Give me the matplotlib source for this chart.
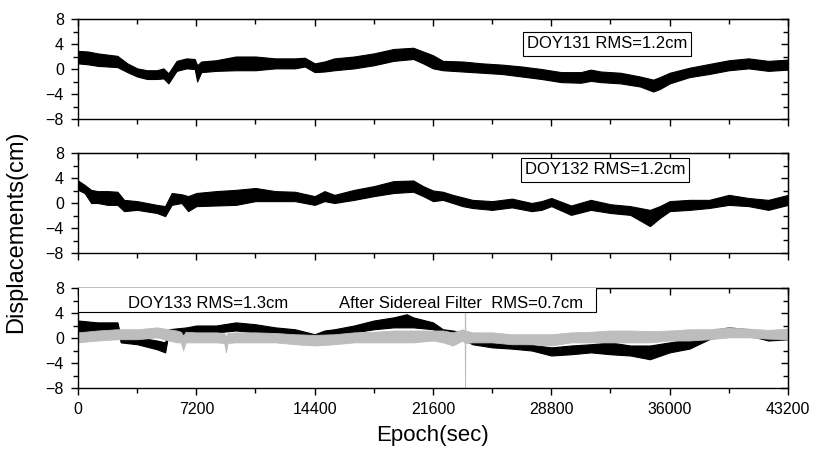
import matplotlib
matplotlib.use('Agg')
import matplotlib.pyplot as plt
from matplotlib.ticker import MultipleLocator
from matplotlib.patches import Rectangle

plt.rcParams['font.family'] = ['Liberation Sans', 'DejaVu Sans']

# DOY131 band (upper / lower envelope, cm)
t1 = [0, 600, 1200, 1800, 2400, 3000, 3600, 4200, 4800, 5200, 5500, 6000, 6600, 7100, 7250, 7500,
      8400, 9600, 10800, 12000, 13200, 13800, 14400, 15000, 15600, 16800, 18000, 19200, 20400, 21000,
      21600, 22200, 23400, 24600, 25800, 27000, 28200, 29400, 30600, 31200, 31800, 33000, 34200,
      35000, 35400, 36000, 37200, 38400, 39600, 40800, 42000, 43200]
hi1 = [2.9, 2.8, 2.5, 2.3, 2.1, 0.9, 0.1, -0.2, -0.2, 0.1, -0.7, 1.3, 1.7, 1.6, 0.6, 1.2,
       1.4, 2.0, 2.0, 1.7, 1.7, 1.8, 0.9, 1.2, 1.7, 2.0, 2.5, 3.2, 3.4, 2.8,
       2.2, 1.3, 1.2, 0.9, 0.7, 0.4, 0.0, -0.5, -0.5, -0.1, -0.4, -0.6, -1.2,
       -1.7, -1.3, -0.6, 0.2, 0.8, 1.4, 1.7, 1.3, 1.5]
lo1 = [0.9, 0.75, 0.5, 0.4, 0.3, -0.5, -1.2, -1.6, -1.6, -1.5, -2.3, -0.3, 0.1, 0.0, -2.0, -0.5,
       -0.3, -0.2, -0.2, 0.1, 0.1, 0.4, -0.5, -0.4, -0.2, 0.1, 0.6, 1.3, 1.6, 0.9,
       0.1, -0.2, -0.4, -0.6, -0.8, -1.2, -1.6, -2.1, -2.2, -1.9, -2.1, -2.3, -2.8,
       -3.6, -3.2, -2.3, -1.3, -0.8, -0.2, 0.1, -0.3, -0.1]

# DOY132
t2 = [0, 400, 800, 1200, 1800, 2400, 2800, 3600, 4800, 5300, 5700, 6300, 6700, 7200, 8400,
      9600, 10800, 12000, 13200, 14400, 15000, 15600, 16800, 18000, 19200, 20400, 21000, 21600,
      22200, 22800, 23400, 24000, 25200, 26400, 27600, 28200, 28800, 30000, 31200, 32400, 33600,
      34800, 35400, 36000, 37200, 38400, 39600, 40800, 42000, 43200]
hi2 = [3.6, 2.9, 2.1, 1.9, 1.9, 1.8, 0.5, 0.3, -0.3, -0.5, 1.6, 1.4, 1.1, 1.6, 1.9,
       2.1, 2.4, 1.9, 1.8, 1.1, 1.9, 1.3, 2.1, 2.7, 3.5, 3.6, 2.7, 2.0,
       1.8, 1.3, 0.9, 0.5, 0.3, 0.7, 0.0, 0.3, 0.8, -0.4, 0.5, -0.2, -0.5,
       -1.1, -0.5, 0.3, 0.5, 0.5, 1.3, 0.8, 0.5, 1.3]
lo2 = [2.1, 1.6, 0.0, 0.0, -0.3, -0.3, -1.3, -1.1, -1.6, -2.1, -0.3, 0.0, -1.3, -0.5, -0.4,
       -0.3, 0.3, 0.3, 0.3, -0.3, 0.3, 0.0, 0.5, 1.1, 1.6, 1.8, 1.1, 0.3,
       0.5, 0.0, -0.5, -0.8, -1.1, -0.7, -1.3, -1.1, -0.5, -1.9, -1.1, -1.6, -1.9,
       -3.7, -2.4, -1.3, -1.1, -0.8, -0.3, -0.5, -1.1, -0.3]

# DOY133 raw
t3 = [0, 1200, 2400, 2600, 3600, 4800, 5300, 5500, 6600, 7200, 8400, 9600, 10800, 12000, 13200,
      14400, 15000, 15600, 16800, 18000, 19200, 20000, 20400, 21600, 22200, 22800, 23400, 24000,
      25200, 26400, 27600, 28800, 30000, 31200, 32400, 33600, 34800, 36000, 37200, 38400, 39600,
      40800, 42000, 43200]
hi3 = [2.8, 2.5, 2.5, 0.1, 0.1, -0.4, -0.7, 1.4, 1.7, 2.0, 2.0, 2.5, 2.2, 1.7, 1.4,
       0.6, 1.2, 1.4, 2.0, 2.8, 3.3, 3.8, 3.3, 2.5, 1.4, 1.2, 0.9, -0.2,
       -0.7, -0.7, -1.1, -1.5, -1.2, -1.0, -0.7, -1.2, -1.2, -0.7, -0.2, 1.2, 1.7,
       1.4, 0.6, 1.4]
lo3 = [0.6, 1.2, 1.4, -0.7, -1.0, -1.8, -2.3, 0.6, 0.4, 0.9, 0.9, 1.2, 0.9, 0.8, 0.5,
       0.3, 0.4, 0.5, 0.9, 1.4, 1.7, 1.7, 1.7, 1.4, 0.4, 0.1, -0.2, -1.0,
       -1.5, -1.7, -2.0, -2.8, -2.6, -2.3, -2.6, -2.8, -3.4, -2.3, -1.7, -0.2, 0.6,
       0.4, -0.4, -0.2]

# DOY133 after sidereal filter
tg = [0, 1200, 2400, 3600, 4800, 6000, 6250, 6400, 6550, 7200, 8400, 8900, 9000, 9100, 9600, 10800,
      12000, 13200, 14400, 15600, 16800, 18000, 19200, 20400, 21600, 22200, 22800, 23400, 23530,
      23550, 23570, 24000, 25200, 26400, 27600, 28800, 30000, 31200, 32400, 33600, 34800, 36000,
      37200, 38400, 39600, 40800, 42000, 43200]
hig = [0.9, 1.2, 1.4, 1.4, 1.7, 1.2, 1.0, 0.4, 1.0, 0.9, 0.9, 0.8, 0.2, 0.8, 0.9, 0.9,
       0.8, 0.6, 0.5, 0.6, 0.9, 1.0, 1.2, 1.2, 1.2, 1.2, 0.9, 1.4, 1.2,
       9.0, 1.2, 0.9, 0.9, 0.6, 0.6, 0.6, 0.9, 1.0, 1.2, 1.2, 1.1, 1.2,
       1.4, 1.4, 1.7, 1.5, 1.3, 1.5]
log = [-0.7, -0.4, -0.2, -0.2, 0.1, -0.7, -0.7, -2.0, -0.7, -0.7, -0.7, -0.8, -2.3, -0.8, -0.7, -0.7,
       -0.7, -1.0, -1.2, -1.0, -0.7, -0.7, -0.7, -0.7, -0.4, -0.7, -1.2, -0.4, -0.8,
       -9.0, -0.8, -0.7, -0.7, -1.0, -1.0, -1.2, -0.7, -0.7, -0.7, -0.7, -0.7, -0.4,
       -0.4, -0.2, 0.1, 0.1, -0.1, -0.2]

labels = ['DOY131 RMS=1.2cm', 'DOY132 RMS=1.2cm', 'DOY133 RMS=1.3cm']
filt_label = 'After Sidereal Filter  RMS=0.7cm'
xticks = [0, 7200, 14400, 21600, 28800, 36000, 43200]
yticks = [-8, -4, 0, 4, 8]
gray = '#bdbdbd'

fig = plt.figure(figsize=(8.18, 4.5), dpi=100)
left, width, height = 78/818, 710/818, 100/450
bottoms = [1-119/450, 1-253/450, 1-388/450]
axes = [fig.add_axes([left, b, width, height]) for b in bottoms]


def style(ax, show_x):
    ax.set_xlim(0, 43200)
    ax.set_ylim(-8, 8)
    ax.set_xticks(xticks)
    ax.set_yticks(yticks)
    ax.xaxis.set_minor_locator(MultipleLocator(3600))
    ax.yaxis.set_minor_locator(MultipleLocator(2))
    ax.tick_params(which='major', direction='out', length=5, width=1, labelsize=11.5, pad=5)
    ax.tick_params(which='minor', direction='out', length=3.5, width=1)
    if not show_x:
        ax.tick_params(axis='x', labelbottom=False)
    for s in ax.spines.values():
        s.set_linewidth(1.0)
    top = ax.secondary_xaxis('top')
    top.set_xticks(xticks)
    top.xaxis.set_minor_locator(MultipleLocator(3600))
    top.tick_params(which='major', direction='in', length=5, width=1, labeltop=False)
    top.tick_params(which='minor', direction='in', length=3.5, width=1)
    right = ax.secondary_yaxis('right')
    right.set_yticks(yticks)
    right.yaxis.set_minor_locator(MultipleLocator(2))
    right.tick_params(which='major', direction='in', length=5, width=1, labelright=False)
    right.tick_params(which='minor', direction='in', length=3.5, width=1)


ax1, ax2, ax3 = axes
ax1.fill_between(t1, lo1, hi1, color='black', lw=0.8)
ax1.text(32190, 4.0, labels[0], ha='center', va='center', fontsize=12,
         bbox=dict(boxstyle='square,pad=0.25', fc='white', ec='black', lw=0.8))
style(ax1, False)

ax2.fill_between(t2, lo2, hi2, color='black', lw=0.8)
ax2.text(32070, 5.3, labels[1], ha='center', va='center', fontsize=12,
         bbox=dict(boxstyle='square,pad=0.25', fc='white', ec='black', lw=0.8))
style(ax2, False)

ax3.fill_between(t3, lo3, hi3, color='black', lw=0.8)
ax3.fill_between(tg, log, hig, color=gray, lw=0.6)
ax3.add_patch(Rectangle((0, 0.762), 0.7296, 0.3, transform=ax3.transAxes,
                        fc='white', ec='black', lw=0.8, zorder=5, clip_on=True))
ax3.text(0.183, 0.85, labels[2], transform=ax3.transAxes, ha='center', va='center',
         fontsize=12, zorder=6)
ax3.text(0.540, 0.85, filt_label, transform=ax3.transAxes, ha='center', va='center',
         fontsize=12, zorder=6)
style(ax3, True)
ax3.set_xlabel('Epoch(sec)', fontsize=16, labelpad=6)

fig.text(0.020, 1-232/450, 'Displacements(cm)', rotation=90, ha='center', va='center', fontsize=17)

fig.savefig('out.png', dpi=100)
